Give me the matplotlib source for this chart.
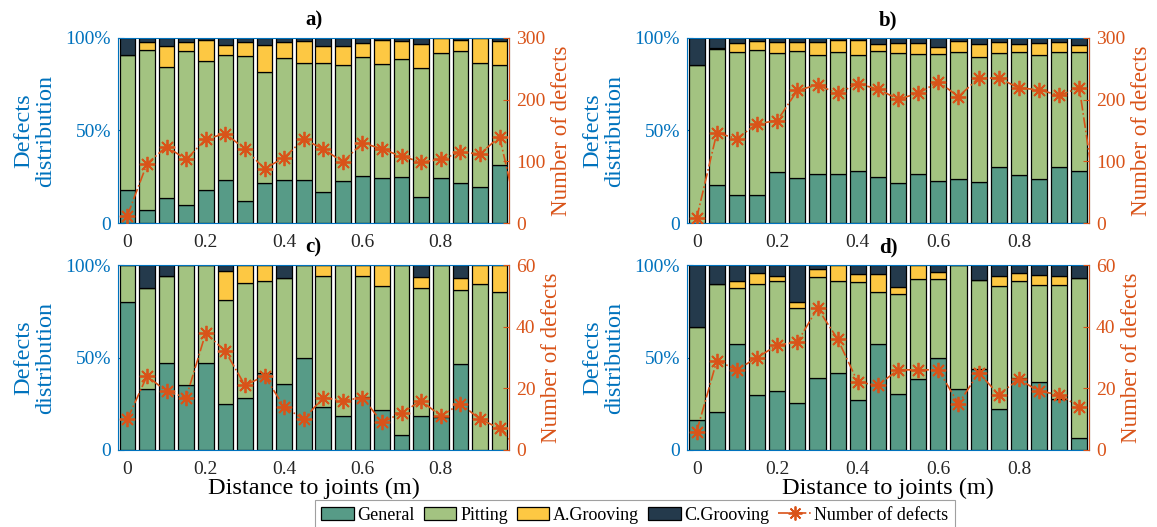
import numpy as np
import matplotlib

matplotlib.use("Agg")
import matplotlib.pyplot as plt  # noqa: E402
from matplotlib.patches import Patch  # noqa: E402
from matplotlib.lines import Line2D  # noqa: E402

plt.rcParams["font.family"] = ["Liberation Serif", "DejaVu Serif"]

distance = np.round(np.arange(20) * 0.05, 2)
line_x = np.round(np.arange(21) * 0.05, 2)

# --- a) -------------------------------------------------------------
a_general = [18.0, 7.2, 13.5, 9.9, 17.8, 23.2, 11.7, 21.4, 23.2, 23.2,
             16.8, 22.9, 25.6, 24.5, 25.0, 14.2, 24.5, 21.4, 19.6, 31.2]
a_pitting = [72.6, 86.1, 70.8, 83.1, 69.6, 67.6, 78.4, 60.2, 66.0, 63.3,
             69.5, 62.7, 64.1, 61.6, 63.5, 69.4, 67.6, 71.6, 66.9, 54.4]
a_agroove = [0.0, 4.4, 11.4, 4.8, 11.5, 5.6, 7.7, 14.6, 8.6, 11.9,
             9.2, 10.3, 7.6, 12.8, 9.7, 13.2, 7.9, 5.7, 13.5, 12.8]
a_cgroove = [9.4, 2.3, 4.3, 2.2, 1.1, 3.6, 2.2, 3.8, 2.2, 1.6,
             4.5, 4.1, 2.7, 1.1, 1.8, 3.2, 0.0, 1.3, 0.0, 1.6]
a_count = [12, 96, 124, 103, 136, 145, 120, 88, 106, 136,
           120, 99, 130, 120, 108, 99, 103, 115, 112, 140, 0]

# --- b) -------------------------------------------------------------
b_general = [0.0, 20.5, 15.1, 15.1, 27.7, 24.1, 26.3, 26.5, 28.1, 24.7,
             21.4, 26.3, 22.5, 23.8, 22.2, 30.5, 25.8, 23.8, 30.3, 28.1]
b_pitting = [85.2, 73.7, 77.3, 78.4, 64.2, 68.7, 64.5, 65.8, 62.9, 68.3,
             70.5, 64.9, 69.0, 68.6, 67.5, 61.6, 66.8, 67.2, 62.1, 64.3]
b_agroove = [0.0, 0.6, 4.9, 4.9, 5.9, 5.0, 7.0, 6.6, 7.9, 3.9,
             5.4, 6.1, 3.5, 6.2, 7.1, 5.7, 4.0, 6.3, 5.4, 4.0]
b_cgroove = [14.8, 5.2, 2.7, 1.6, 2.2, 2.2, 2.2, 1.1, 1.1, 3.1,
             2.7, 2.7, 5.0, 1.4, 3.2, 2.2, 3.4, 2.7, 2.2, 3.6]
b_count = [8, 146, 137, 161, 166, 215, 224, 210, 226, 217,
           201, 210, 229, 205, 235, 235, 219, 216, 207, 219, 0]

# --- c) -------------------------------------------------------------
c_general = [79.8, 33.0, 47.0, 35.0, 47.0, 24.7, 28.1, 41.4, 35.5, 49.5,
             23.1, 18.2, 28.8, 21.8, 7.9, 18.2, 17.7, 46.5, 0.0, 0.0]
c_pitting = [20.2, 54.4, 47.2, 65.0, 53.0, 56.4, 62.0, 50.1, 57.3, 50.5,
             71.0, 81.8, 65.1, 66.8, 92.1, 69.2, 82.3, 40.0, 89.7, 85.6]
c_agroove = [0.0, 0.0, 0.0, 0.0, 0.0, 15.7, 9.9, 8.5, 0.0, 0.0,
             5.9, 0.0, 6.1, 11.4, 0.0, 6.1, 0.0, 6.7, 10.3, 14.4]
c_cgroove = [0.0, 12.6, 5.8, 0.0, 0.0, 3.2, 0.0, 0.0, 7.2, 0.0,
             0.0, 0.0, 0.0, 0.0, 0.0, 6.5, 0.0, 6.8, 0.0, 0.0]
c_count = [10, 24, 19, 17, 38, 32, 21, 24, 14, 10,
           17, 16, 17, 9, 12, 16, 11, 15, 10, 7, 0]

# --- d) -------------------------------------------------------------
d_general = [16.2, 20.5, 57.5, 29.7, 32.1, 25.4, 38.9, 41.6, 27.0, 57.1,
             30.5, 38.2, 49.7, 33.0, 43.8, 22.0, 38.7, 36.8, 27.6, 6.7]
d_pitting = [50.1, 69.0, 29.9, 60.2, 59.1, 51.5, 54.6, 49.9, 63.8, 28.3,
             54.0, 54.2, 42.6, 67.0, 47.9, 66.6, 52.5, 52.6, 61.4, 86.1]
d_agroove = [0.0, 0.0, 4.0, 6.0, 2.7, 2.9, 4.2, 8.5, 4.5, 9.7,
             3.8, 7.6, 3.7, 0.0, 0.0, 5.6, 4.3, 5.2, 5.2, 0.0]
d_cgroove = [33.7, 10.5, 8.6, 4.1, 6.1, 20.2, 2.3, 0.0, 4.7, 4.9,
             11.7, 0.0, 4.0, 0.0, 8.3, 5.8, 4.5, 5.4, 5.8, 7.2]
d_count = [6, 29, 26, 30, 34, 35, 46, 36, 22, 21,
           26, 26, 26, 15, 25, 18, 23, 19, 18, 14, np.nan]

categories = ["General", "Pitting", "A.Grooving", "C.Grooving"]
cat_colors = ["#579b87", "#a3c381", "#fdc843", "#243a4c"]
BLUE = "#0072bd"
ORANGE = "#d95319"
ASTERISK = (8, 2, 0)   # matlab '*' : eight-armed line marker
W, H = 1157, 527


def _axes(fig, left, top, right, bottom):
    return fig.add_axes([left / W, 1 - bottom / H, (right - left) / W, (bottom - top) / H])


def _panel(ax, title, parts, count, ymax, show_xlabel):
    base = np.zeros(len(distance))
    for vals, col in zip(parts, cat_colors):
        vals = np.asarray(vals)
        ax.bar(distance, vals, width=0.04, bottom=base, color=col,
               edgecolor="k", linewidth=0.9, zorder=2)
        base = base + vals
    ax.set_xlim(-0.024, 0.974)
    ax.set_ylim(0, 100)
    ax.set_yticks([0, 50, 100])
    ax.set_yticklabels(["0", "50%", "100%"])
    ax.set_xticks([0, 0.2, 0.4, 0.6, 0.8])
    ax.set_xticklabels(["0", "0.2", "0.4", "0.6", "0.8"])
    ax.tick_params(axis="y", colors=BLUE, direction="in", length=4, labelsize=14, pad=5)
    ax.tick_params(axis="x", colors="#262626", direction="in", length=4, labelsize=14, pad=8)
    for s in ("left", "top", "bottom"):
        ax.spines[s].set_color(BLUE)
        ax.spines[s].set_linewidth(0.8)
    ax.set_ylabel("Defects\ndistribution", color=BLUE, fontsize=17.5,
                  linespacing=1.05, labelpad=7)
    ax.set_title(title, fontsize=15, fontweight="bold", pad=9)
    if show_xlabel:
        ax.set_xlabel("Distance to joints (m)", fontsize=17.5, labelpad=0)

    ax2 = ax.twinx()
    ax2.plot(line_x, count, linestyle="-.", marker=ASTERISK, color=ORANGE,
             markersize=11, linewidth=1.2, markeredgewidth=1.3, zorder=3)
    ax2.set_ylim(0, ymax)
    ax2.set_yticks(np.linspace(0, ymax, 4))
    ax2.tick_params(axis="y", colors=ORANGE, direction="in", length=4, labelsize=14, pad=5)
    ax2.spines["right"].set_color(ORANGE)
    for s in ("left", "top", "bottom"):
        ax2.spines[s].set_visible(False)
    ax2.set_ylabel("Number of defects", color=ORANGE, fontsize=16.5, labelpad=4)
    return ax2


fig = plt.figure(figsize=(W / 100, H / 100), dpi=100)

ax_a = _axes(fig, 118, 38, 509, 223)
ax_b = _axes(fig, 687, 38, 1089, 223)
ax_c = _axes(fig, 118, 265, 509, 450)
ax_d = _axes(fig, 687, 265, 1089, 450)

_panel(ax_a, "a)", [a_general, a_pitting, a_agroove, a_cgroove], a_count, 300, False)
_panel(ax_b, "b)", [b_general, b_pitting, b_agroove, b_cgroove], b_count, 300, False)
_panel(ax_c, "c)", [c_general, c_pitting, c_agroove, c_cgroove], c_count, 60, True)
_panel(ax_d, "d)", [d_general, d_pitting, d_agroove, d_cgroove], d_count, 60, True)

handles = [Patch(facecolor=c, edgecolor="k", linewidth=0.9) for c in cat_colors]
handles.append(Line2D([], [], color=ORANGE, linestyle="-.", marker=ASTERISK,
                      markersize=10, linewidth=1.2, markeredgewidth=1.3))
labels = categories + ["Number of defects"]
leg = fig.legend(handles, labels, loc="lower center", ncol=5,
                 bbox_to_anchor=(635 / W, -0.006), fontsize=13, frameon=True,
                 fancybox=False, edgecolor="#888888", handlelength=1.8,
                 handleheight=0.8, handletextpad=0.2, columnspacing=0.5,
                 borderpad=0.35, borderaxespad=0.0)
leg.get_frame().set_linewidth(0.8)

fig.savefig("out.png", dpi=100)
plt.close(fig)
